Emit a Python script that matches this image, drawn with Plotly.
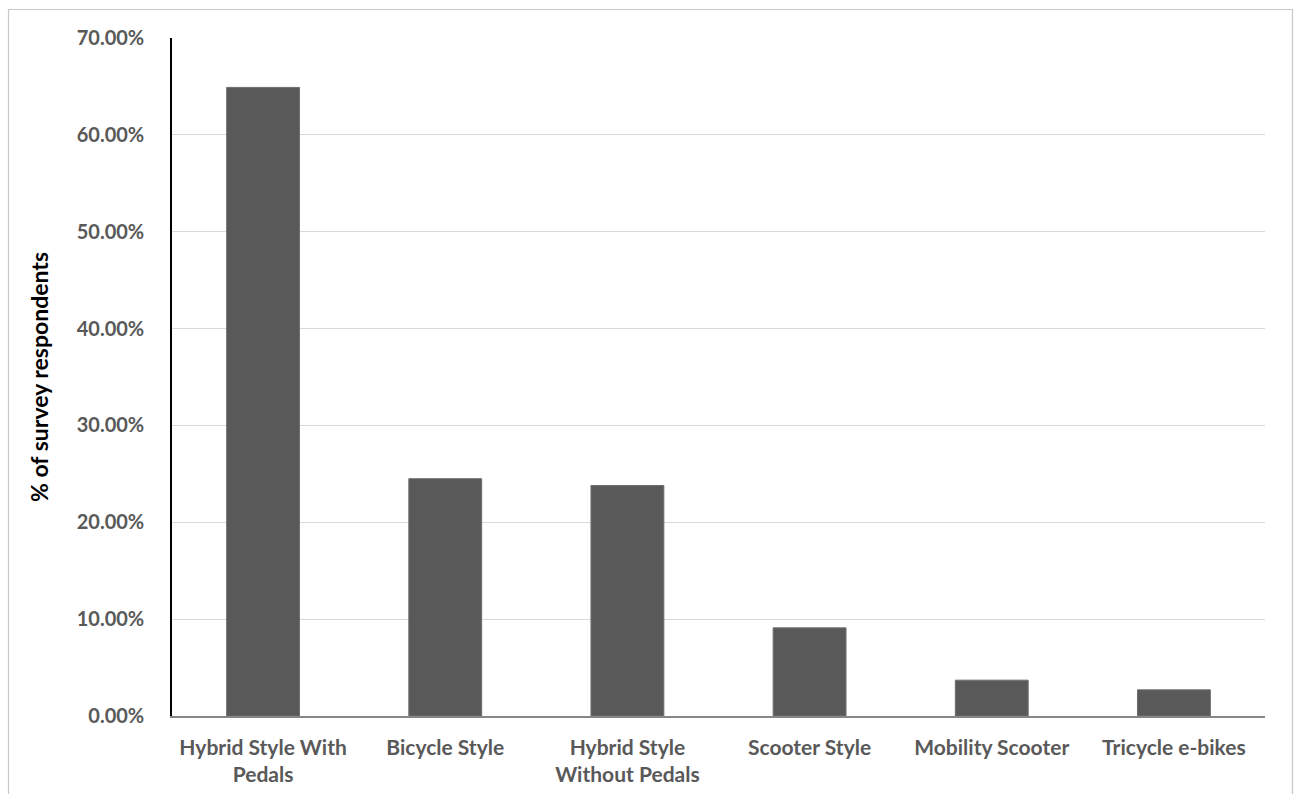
import plotly.graph_objects as go

categories = [
    "Hybrid Style With<br>Pedals",
    "Bicycle Style",
    "Hybrid Style<br>Without Pedals",
    "Scooter Style",
    "Mobility Scooter",
    "Tricycle e-bikes",
]
shares = [0.649, 0.245, 0.238, 0.091, 0.037, 0.027]
y_ticks = [0, 0.1, 0.2, 0.3, 0.4, 0.5, 0.6, 0.7]
y_tick_labels = ["0.00%", "10.00%", "20.00%", "30.00%", "40.00%", "50.00%", "60.00%", "70.00%"]

W, H = 1299, 794
L, R, T, B = 172, 34, 38, 78
pw, ph = W - L - R, H - T - B

fig = go.Figure(
    go.Bar(
        x=categories,
        y=shares,
        marker=dict(color="#595959", line=dict(color="#6e6e6e", width=1)),
    )
)

font_family = "Lato, 'Open Sans', sans-serif"

fig.update_layout(
    width=W,
    height=H,
    margin=dict(l=L, r=R, t=T, b=B, autoexpand=False),
    paper_bgcolor="white",
    plot_bgcolor="white",
    bargap=0.6,
    showlegend=False,
    font=dict(family=font_family),
    xaxis=dict(
        automargin=False,
        showline=True,
        linecolor="#868686",
        linewidth=1.5,
        showgrid=False,
        ticks="",
        tickfont=dict(size=21, color="#595959", family=font_family, weight="bold"),
        ticklabelstandoff=12,
    ),
    yaxis=dict(
        automargin=False,
        range=[0, 0.7],
        tickvals=y_ticks,
        ticktext=y_tick_labels,
        showline=True,
        linecolor="#000000",
        linewidth=1.5,
        showgrid=True,
        gridcolor="#d9d9d9",
        gridwidth=1,
        zeroline=False,
        ticks="",
        tickfont=dict(size=20, color="#595959", family=font_family, weight="bold"),
        ticklabelstandoff=22,
        title=dict(
            text="% of survey respondents",
            font=dict(size=23, color="#000000", family=font_family, weight="bold"),
            standoff=22,
        ),
    ),
    shapes=[
        dict(
            type="rect",
            xref="paper",
            yref="paper",
            x0=(8.5 - L) / pw,
            x1=(1292.5 - L) / pw,
            y0=(H - B - 810) / ph,
            y1=(H - B - 9.5) / ph,
            line=dict(color="#c8c8c8", width=1.2),
            layer="below",
        )
    ],
)

fig.write_html("out.html")
